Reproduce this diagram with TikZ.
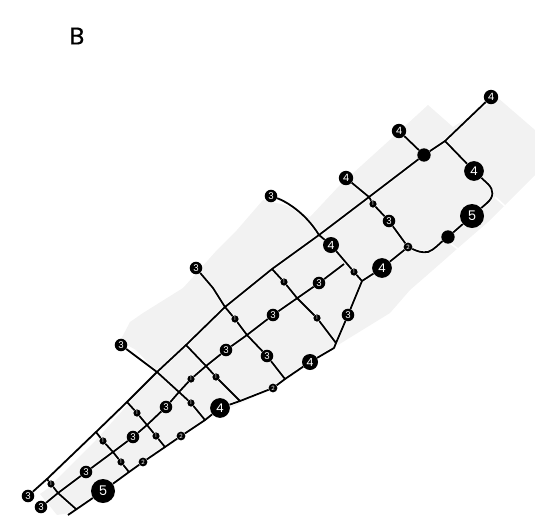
\documentclass[tikz,border=0pt]{standalone}
\usepackage{fontspec}
\setmainfont{Poppins}
\newfontfamily\titlefont[FakeBold=0.5]{Poppins}
\usetikzlibrary{backgrounds}
\tikzset{
 st/.style={circle,fill=black,text=white,inner sep=0pt,align=center},
 n1/.style={st,minimum size=5.4pt,font=\fontsize{3.8pt}{4pt}\selectfont},
 n2/.style={st,minimum size=6.6pt,font=\fontsize{4.4pt}{4pt}\selectfont},
 n3/.style={st,minimum size=9.4pt,font=\fontsize{7pt}{7pt}\selectfont},
 n4s/.style={st,minimum size=10.8pt,font=\fontsize{7.6pt}{8pt}\selectfont},
 n4m/.style={st,minimum size=12pt,font=\fontsize{8.4pt}{9pt}\selectfont},
 n4/.style={st,minimum size=14.8pt,font=\fontsize{9pt}{10pt}\selectfont},
 n5/.style={st,minimum size=18pt,font=\fontsize{10pt}{11pt}\selectfont},
 dotnode/.style={st,minimum size=10pt},
 halo/.style={draw=white,line width=2.4pt,line join=round},
 wire/.style={draw=black,line width=1.35pt,line join=round},
 zone/.style={fill=black!5,draw=none},
 gap/.style={draw=white,line width=1.2pt},
 title/.style={font=\titlefont\fontsize{18pt}{20pt}\selectfont}
}
\def\routes{
 (a0) -- (j1) -- (j2) -- (j3) -- (j4) -- (j5) -- (j6) -- (j7b) -- (j7) -- (j8) -- (dA) -- (j9) -- (a9)
 (b0) -- (k1) -- (b1) -- (k2) -- (b2) -- (k3) -- (b3) -- (k4) -- (m1) -- (k5) -- (b4) -- (k6) -- (b5) -- (b6) -- (k7)
 (k0) -- (c5) -- (l1) -- (c1) -- (l2) -- (c2) -- (l3) -- (c4) -- (l4) -- (c3) -- (l5) -- (c6) -- (l6) -- (l7) -- (c7) -- (c8) -- (c8n) -- (c9)
 (c9) .. controls (417,251) and (421,253) .. (428,252) .. controls (434,250) and (440,243) .. (dB) -- (c10)
 (c10) -- (c10b) .. controls (494,197) and (494,190) .. (c11b) -- (c11) -- (j9)
 (x1) -- (j4) -- (m2) -- (l3)
 (x2) -- (y1) -- (j6) -- (m4) -- (k6) -- (s1) -- (l5)
 (x3) .. controls (285,201) and (305,212) .. (j7) -- (s2) -- (m5) -- (c8)
 (x4) -- (j8) -- (m6) -- (s3) -- (c9)
 (x5) -- (dA)
 (j7b) -- (m7) -- (k7b) -- (m8) -- (l7)
 (j5) -- (k5) -- (m9) -- (l4)
 (j3) -- (m10) -- (k3) -- (m11) -- (l2)
 (j2) -- (m12) -- (k2) -- (m13) -- (l1)
 (j1) -- (m14) -- (k1) -- (k0b)
}
\begin{document}
\begin{tikzpicture}[x=0.75pt,y=-0.75pt]
\useasboundingbox (0,0) rectangle (535,515);
\node[title] (t) at (77,36) {B};
% junctions
\foreach \n/\x/\y in {j1/47/479,j2/96/432,j3/127/402,j4/157/372,j5/186/345,j6/225/307,j7b/272/269,j7/319/235,j8/369/197,j9/445/141,
 k1/58/493,k2/113/452,k3/147/425,k4/179/392,k5/206/366,k6/247/335,k7/344/264,k7b/297/298,
 k0/68/515,k0b/76/509,l1/129/472,l2/165/447,l3/205/420,l4/240/401,l5/285/379,l6/334/348,l7/336/343,c8/362/281,y1/213/288,c10b/487/203,c11b/488/184}
 {\coordinate (\n) at (\x,\y);}
% stations
\foreach \n/\x/\y/\s/\t in {a0/28/496/n3/3,b0/41/507/n3/3,a9/491/97/n4s/4,b1/86/472/n3/3,b2/133/437/n3/3,b3/166/407/n3/3,b4/226/350/n3/3,b5/273/315/n3/3,b6/319/283/n3/3,
 x1/121/345/n3/3,x2/196/268/n3/3,x3/271/196/n3/3,x4/346/178/n4s/4,x5/399/131/n4s/4,
 c5/103/491/n5/5,c1/143/462/n2/2,c2/181/436/n2/2,c4/220/408/n4/4,c3/273/388/n2/2,c6/310/362/n4m/4,c7/348/315/n3/3,c8n/382/268/n4/4,c9/408/247/n2/2,c10/472/216/n5/5,c11/474/171/n4/4,
 m1/191/379/n1/1,m2/191/403/n1/1,m4/235/319/n1/1,s1/267/356/n3/3,s2/331/245/n4m/4,m5/354/272/n1/1,m6/373/204/n1/1,s3/389/221/n3/3,
 m7/284/282/n1/1,m8/317/318/n1/1,m9/216/377/n1/1,m10/137/413/n1/1,m11/156/436/n1/1,m12/103/441/n1/1,m13/121/462/n1/1,m14/51/484/n1/1}
 {\node[\s] (\n) at (\x,\y) {\t};}
\node[dotnode] (dA) at (424,155) {};
\node[dotnode] (dB) at (448,237) {};
\begin{scope}[on background layer]
 \path[zone] (40,494) -- (47,489) -- (96,440) -- (157,372) -- (136,350) -- (120,341) -- (130,322) -- (143,313) -- (183,288) -- (193,277) -- (217,250) -- (237,230) -- (263,200) -- (285,205) -- (310,217) -- (340,185) -- (393,137) -- (428,105) -- (453,127) -- (498,98) -- (535,130) -- (535,175) -- (505,205) -- (488,222) -- (458,248) -- (433,270) -- (410,290) -- (390,313) -- (338,345) -- (334,348) -- (273,388) -- (205,420) -- (129,472) -- (70,513) -- (57,515) -- cycle;
 \draw[gap] (495,197) -- (506,207);
 \draw[gap] (450,243) -- (458,249);
 \path[halo] \routes;
 \path[wire] \routes;
\end{scope}
\end{tikzpicture}
\end{document}
